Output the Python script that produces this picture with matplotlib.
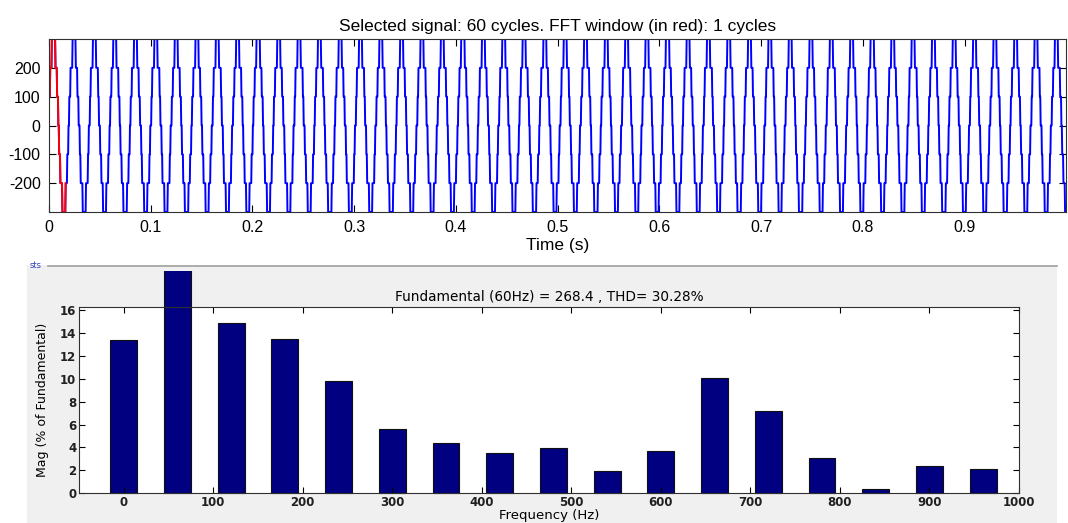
import numpy as np
import matplotlib
matplotlib.use("Agg")
import matplotlib.pyplot as plt
from matplotlib.patches import Rectangle
from matplotlib.lines import Line2D
from matplotlib.transforms import Bbox, TransformedBbox

plt.rcParams["axes.unicode_minus"] = False

# --- signal (stepped multilevel waveform) ---
period = 0.02012          # s, read from the peaks spacing
first_peak = 0.0044       # s, centre of first positive plateau
step_levels = [100, 200, 300]
switch_angles = [9, 28, 61]   # deg from rising zero crossing
fft_window = 1 / 60.0     # one cycle shown in red
dt = 4e-4

# --- FFT bars ---
freqs = [0, 60, 120, 180, 240, 300, 360, 420, 480, 540, 600, 660, 720, 780, 840, 900, 960]
mags = [13.4, 100, 14.9, 13.5, 9.8, 5.6, 4.37, 3.5, 3.9, 1.9, 3.65, 10.1, 7.17, 3.06, 0.38, 2.33, 2.13]

title_top = "Selected signal: 60 cycles. FFT window (in red): 1 cycles"
title_bot = "Fundamental (60Hz) = 268.4 , THD= 30.28%"

W, H = 1068, 523
fig = plt.figure(figsize=(W / 100, H / 100), dpi=100)
fig.patch.set_facecolor("white")

# grey panel behind the FFT plot
fig.patches.append(Rectangle((27 / W, 0), (1057 - 27) / W, (H - 265) / H,
                             transform=fig.transFigure, facecolor="#f0f0f0",
                             edgecolor="none", zorder=-5))
fig.lines.append(Line2D([48 / W, 1057 / W], [(H - 266) / H] * 2, transform=fig.transFigure,
                        color="#a0a0a0", lw=1.2, zorder=-4))
fig.text(30 / W, (H - 266) / H, "sts", color="#3040c0", fontsize=6, va="center",
         family="DejaVu Sans")

# build the waveform from one cycle pattern
t = np.arange(0, 1.0 + dt, dt)
zero_cross = first_peak - period / 4
phase = ((t - zero_cross) / period % 1.0) * 360
v = np.zeros_like(t)
for lvl_prev, lvl, ang in zip([0] + step_levels[:-1], step_levels, switch_angles):
    step = lvl - lvl_prev
    v += np.where((phase >= ang) & (phase <= 180 - ang), step, 0)
    v -= np.where((phase >= 180 + ang) & (phase <= 360 - ang), step, 0)

ax1 = fig.add_axes([49 / W, (H - 212) / H, 1017 / W, 173 / H])
ax1.plot(t, v, color="#0000ff", lw=1.4)
m = t <= fft_window
ax1.plot(t[m], v[m], color="#ff0000", lw=1.4)
ax1.set_xlim(0, 0.9997)
ax1.set_ylim(-300, 300)
ax1.set_xticks(np.arange(0, 1.0, 0.1))
ax1.set_xticklabels(["0", "0.1", "0.2", "0.3", "0.4", "0.5", "0.6", "0.7", "0.8", "0.9"])
ax1.set_yticks([-200, -100, 0, 100, 200])
ax1.tick_params(direction="in", top=True, right=True, length=5, labelsize=11.5, pad=6)
for s in ax1.spines.values():
    s.set_color("#303030")
    s.set_zorder(5)
ax1.set_title(title_top, fontsize=12.5, pad=6, family="Liberation Sans")
ax1.set_xlabel("Time (s)", fontsize=12.5, labelpad=2, family="Liberation Sans")
for lab in ax1.get_xticklabels() + ax1.get_yticklabels():
    lab.set_family("Liberation Sans")

# FFT bar chart
ax2 = fig.add_axes([79 / W, (H - 493) / H, 940 / W, 186 / H])
ax2.set_facecolor("white")
bars = ax2.bar(freqs, mags, width=30, color="#000080", edgecolor="#101010", lw=0.8)
clip = TransformedBbox(Bbox([[0, 0], [1, (H - 271) / H]]), fig.transFigure)
for b in bars:
    b.set_clip_on(True)
    b.set_clip_box(clip)
ax2.set_xlim(-50, 1000)
ax2.set_ylim(0, 16.3)
ax2.set_xticks(range(0, 1001, 100))
ax2.set_yticks(range(0, 17, 2))
ax2.tick_params(direction="in", top=True, right=True, length=4, labelsize=8.5, pad=2)
for lab in ax2.get_xticklabels() + ax2.get_yticklabels():
    lab.set_fontweight("bold")
    lab.set_color("#202020")
for s in ax2.spines.values():
    s.set_color("#303030")
ax2.set_title(title_bot, fontsize=9.8, pad=4, family="DejaVu Sans")
ax2.set_xlabel("Frequency (Hz)", fontsize=9.5, labelpad=0, family="DejaVu Sans")
ax2.set_ylabel("Mag (% of Fundamental)", fontsize=9, labelpad=8,
               family=["Liberation Sans Narrow", "DejaVu Sans"])

fig.savefig("out.png", dpi=100)
